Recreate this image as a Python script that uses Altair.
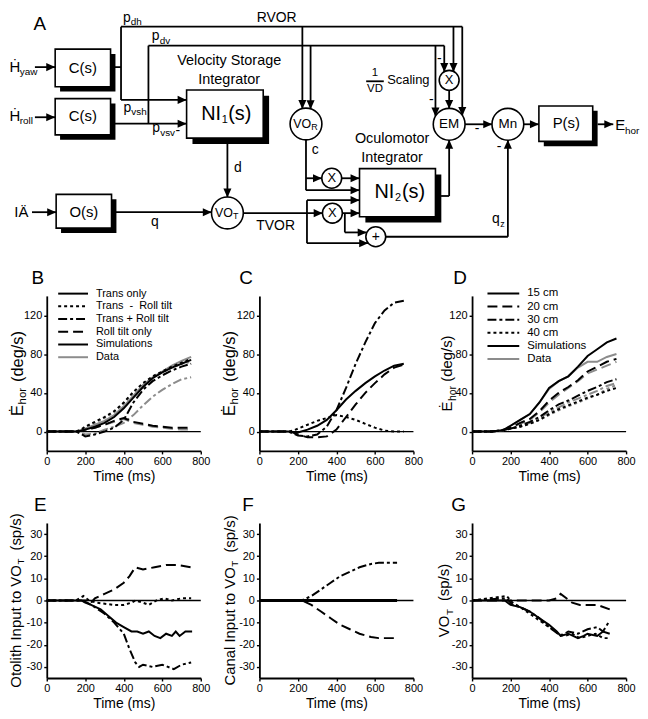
import altair as alt
import pandas as pd

FONT = "Liberation Sans"
BLACK = "#000000"
GRAY = "#8c8c8c"

# ----------------------------- panel data ---------------------------------
T_GRID = [0, 100, 150, 175, 200, 250, 300, 350, 400, 450, 500, 550, 600, 650, 700, 750]

# B: simulations (black) and data (gray)
B_SIM_TRANS_ONLY = [0, 0, 0, 0.5, 2, 5, 9, 15, 24, 35, 46, 55, 61, 66, 70, 74]
B_SIM_TRANS_MINUS = [0, 0, 0, 1.5, 5, 10, 15, 21, 30, 41, 50, 57, 62, 67, 71, 75]
B_SIM_TRANS_PLUS = [0, 0, 0, -2, -5, -3, 0, 4, 12, 30, 43, 52, 58, 63, 67, 70]
B_SIM_ROLL_ONLY = [0, 0, 0, 0.5, 2, 4, 7, 11, 14, 10, 8, 6, 5, 4, 4, 4]
B_DAT_TRANS_ONLY = [0, 0, 0, 1, 3, 7, 11, 17, 26, 37, 48, 56, 62, 68, 73, 77]
B_DAT_TRANS_MINUS = [0, 0, 0, 2, 5, 9, 14, 20, 29, 40, 49, 56, 61, 66, 70, 72]
B_DAT_TRANS_PLUS = [0, 0, 0, -1, -3, -2, 2, 5, 9, 17, 27, 36, 43, 49, 54, 56]
B_DAT_ROLL_ONLY = [0, 0, 0, 1, 2, 4, 7, 10, 13, 9, 7, 5, 4, 3, 2, 2]

# C: simulations only
C_SOLID = [0, 0, 0, -0.5, -1, 2, 6, 12, 22, 33, 42, 50, 57, 63, 68, 70]
C_DOTTED = [0, 0, 0, 1, 3, 7, 11, 14, 17, 15, 12, 8, 4, 1, 0, 0]
C_DASHDOT = [0, 0, 0, -2, -4, -5, -3, 5, 22, 45, 70, 92, 112, 125, 133, 135]
C_DASHED = [0, 0, 0, -1, -3, -6, -6, -5, 2, 15, 28, 40, 50, 59, 66, 69]

# D: viewing distance
D_SIM_15 = [0, 0, 1, 3, 6, 12, 18, 30, 45, 52, 57, 67, 78, 85, 92, 96]
D_DAT_15 = [0, 0, 1, 3, 6, 12, 18, 30, 44, 52, 57, 66, 72, 72, 77, 80]
D_SIM_20 = [0, 0, 1, 2, 4, 9, 13, 21, 32, 40, 46, 53, 62, 67, 72, 75]
D_DAT_20 = [0, 0, 1, 2, 4, 8, 12, 20, 30, 38, 45, 52, 60, 64, 68, 72]
D_SIM_30 = [0, 0, 1, 2, 3, 6, 10, 15, 22, 28, 32, 37, 42, 46, 51, 54]
D_DAT_30 = [0, 0, 1, 2, 3, 5, 9, 14, 20, 25, 30, 34, 38, 42, 47, 50]
D_SIM_40 = [0, 0, 1, 2, 3, 5, 8, 12, 18, 23, 27, 31, 35, 38, 42, 45]
D_DAT_40 = [0, 0, 1, 2, 3, 5, 8, 12, 17, 22, 26, 30, 34, 38, 44, 48]

# E: otolith input to VO_T
E_T_SOLID = [0, 150, 180, 200, 230, 280, 320, 360, 400, 440, 470, 500, 530, 560, 590, 620, 650, 670, 690, 720, 755]
E_SOLID = [0, 0, 0, -1, -2, -4, -7, -10, -12, -14, -14, -15, -14, -16, -17, -15, -16, -14, -16, -14, -14]
E_T_DASHDOT = [0, 180, 210, 250, 300, 350, 400, 430, 460, 480, 500, 550, 600, 660, 700, 750]
E_DASHDOT = [0, 0, -1, -3, -6, -10, -15, -22, -28, -30, -29, -30, -29, -31, -29, -28]
E_T_DASHED = [0, 200, 230, 250, 300, 350, 400, 430, 460, 500, 560, 620, 680, 750]
E_DASHED = [0, 0, -1, 1, 3, 5, 8, 11, 15, 14, 15, 16, 16, 15]
E_T_DOTTED = [0, 150, 170, 190, 220, 260, 350, 400, 440, 460, 500, 530, 570, 610, 650, 700, 750]
E_DOTTED = [0, 0, 1, 2, 0, -1, -2, -2, -1, 0, -1, -2, 0, 1, 0, 1, 1]

# F: canal input to VO_T
F_T = [0, 220, 270, 320, 370, 420, 470, 520, 580, 620, 715]
F_DASHDOT = [0, 0, 2, 5, 8, 11, 13, 15, 16.5, 17, 17]
F_DASHED = [0, 0, -2, -5, -8, -11, -13, -15, -16.5, -17, -17]
F_T_SOLID = [0, 715]
F_SOLID = [0, 0]

# G: VO_T
G_T_SOLID = [0, 170, 200, 250, 300, 350, 400, 440, 460, 500, 550, 580, 600, 650, 680, 715]
G_SOLID = [0, 0, -2, -3, -5, -8, -11, -14, -16, -15, -17, -16, -15, -16, -14, -15]
G_T_DASHED = [0, 300, 400, 440, 460, 490, 520, 560, 600, 650, 715]
G_DASHED = [0, 0, 0, 1, 3, 1, -1, -2, -2, -2, -4]
G_T_DASHDOT = [0, 180, 210, 250, 300, 350, 400, 430, 460, 500, 550, 600, 650, 680, 715]
G_DASHDOT = [0, 1, -2, -3, -5, -8, -12, -14, -16, -14, -15, -13, -12, -14, -9]
G_T_DOTTED = [0, 180, 210, 250, 300, 350, 400, 450, 480, 520, 560, 600, 640, 680, 715]
G_DOTTED = [0, 2, -1, -3, -6, -9, -12, -15, -16, -15, -17, -16, -15, -17, -17]

X_TICKS = [0, 200, 400, 600, 800]
Y_TICKS_TOP = [0, 40, 80, 120]
Y_TICKS_BOTTOM = [-30, -20, -10, 0, 10, 20, 30]

LEG_B_LABELS = ["Trans only", "Trans\u00a0\u00a0-\u00a0\u00a0Roll tilt", "Trans + Roll tilt",
                "Roll tilt only", "Simulations", "Data"]
LEG_D_LABELS = ["15 cm", "20 cm", "30 cm", "40 cm", "Simulations", "Data"]

# ----------------------------- diagram geometry ----------------------------
BOXES = [  # x1, y1, x2, y2, shadow
    (50.7, 39.3, 107.3, 78.3, 5), (50.7, 90.7, 107.3, 128.3, 5),
    (185, 81.7, 263.3, 131.7, 6), (51.7, 190, 108.3, 225, 5),
    (361.7, 163.3, 439.3, 213.3, 6), (545, 98.3, 600, 135, 5),
]
CIRCLES = [  # cx, cy, r
    (307, 117, 16), (226.7, 209.3, 16), (453.3, 117.3, 16), (513.3, 117.3, 16),
    (453.3, 71.7, 10), (333.3, 173.3, 10), (334, 209.5, 10), (378.3, 234, 10),
]
SEGMENTS = [  # x1, y1, x2, y2, arrowhead at end ('' none, r/l/u/d)
    (118, 16, 466.7, 16, ""), (107.3, 58, 118, 58, ""), (118, 16, 118, 92, ""),
    (118, 92, 185, 92, "r"), (146, 35.7, 448.3, 35.7, ""), (146, 35.7, 146, 116.7, ""),
    (107.3, 116.7, 185, 116.7, "r"), (30, 58, 50.7, 58, "r"), (30, 110, 50.7, 110, "r"),
    (303.3, 16, 303.3, 101.4, "d"), (311.7, 35.7, 311.7, 101.7, "d"),
    (439.3, 35.7, 439.3, 109.3, "d"), (448.3, 35.7, 448.3, 63, "d"),
    (457.7, 16, 457.7, 63, "d"), (466.7, 16, 466.7, 108.6, "d"),
    (453.3, 81.7, 453.3, 101.3, "d"), (469.3, 117.3, 497.3, 117.3, "r"),
    (529.3, 117.3, 545, 117.3, "r"), (605, 117.3, 621, 117.3, "r"),
    (445, 191.7, 453.3, 191.7, ""), (453.3, 191.7, 453.3, 133.3, "u"),
    (388.3, 234, 513.3, 234, ""), (513.3, 234, 513.3, 133.3, "u"),
    (226.7, 137.7, 226.7, 193.3, "d"), (108.3, 208.5, 210.7, 208.5, "r"),
    (27, 208.5, 51.7, 208.5, "r"), (307, 133, 307, 185.7, ""),
    (307, 185.7, 361.7, 185.7, "r"), (307, 173.3, 323.3, 173.3, "r"),
    (343.3, 173.3, 361.7, 173.3, "r"), (242.7, 209.5, 324, 209.5, "r"),
    (308, 196, 308, 240.7, ""), (308, 196, 361.7, 196, "r"),
    (308, 240.7, 370.5, 240.7, "r"), (344, 209.5, 361.7, 209.5, "r"),
    (346.7, 209.5, 346.7, 229.5, ""), (346.7, 229.5, 369, 229.5, "r"),
    (368.5, 72.7, 386.5, 72.7, ""),
]
LABELS_CENTER = [  # text, x, y, size
    ("A", 35, 13, 19), ("RVOR", 277, 7.5, 14),
    ("Velocity Storage", 228.5, 52, 14.5), ("Integrator", 228.5, 71, 14.5),
    ("C(s)", 79, 58.5, 15), ("C(s)", 79, 109, 15), ("O(s)", 80, 208, 15),
    ("P(s)", 573, 115.5, 15), ("Oculomotor", 395, 133, 14.5), ("Integrator", 395, 152, 14.5),
    ("EM", 453.3, 117.3, 13.5), ("Mn", 513.3, 117.3, 13.5),
    ("X", 453.3, 71.7, 13), ("X", 333.3, 173.3, 13), ("X", 334, 209.5, 13),
    ("+", 378.3, 234, 14), ("1", 377.5, 64, 11.5), ("VD", 377.5, 81, 11.5),
    ("d", 237.5, 163, 14), ("c", 316.5, 144.5, 14), ("q", 152.5, 218.5, 14),
    ("TVOR", 276, 222.5, 14), ("-", 435, 91.7, 14), ("-", 443.3, 50, 14),
    ("-", 481.7, 122.7, 14), ("-", 504.3, 140.7, 14), ("-", 176, 124.5, 14),
]
LABELS_LEFT = [  # text, x, y, size
    ("p", 120, 7, 14), ("dh", 128, 11.5, 10), ("p", 149.5, 26, 14), ("dv", 157.5, 31, 10),
    ("p", 120.5, 100, 14), ("vsh", 128.5, 105, 10), ("p", 150, 121, 14), ("vsv", 158, 126, 10),
    ("\u1e22", 4, 57.5, 15), ("yaw", 14.5, 63, 10), ("\u1e22", 4, 108.5, 15), ("roll", 14.5, 114, 10),
    ("I\u00c4", 9, 208.5, 15),
    ("NI", 200, 107, 20), ("1", 221, 113, 11), ("(s)", 227.5, 107, 20),
    ("NI", 377, 188, 20), ("2", 398, 194, 11), ("(s)", 405, 188, 20),
    ("VO", 294, 117, 12.5), ("R", 312.5, 120.5, 9),
    ("VO", 214, 209.3, 12.5), ("T", 232.5, 212.8, 9),
    ("Scaling", 390, 71.5, 13), ("q", 497, 216, 14), ("z", 505.5, 220.5, 9),
    ("E", 623, 118, 15), ("hor", 633, 124, 10),
]

# ----------------------------- layout constants ----------------------------
PW, PH = 155, 156
GAP = 59
DIAG_W = 3 * PW + 2 * GAP
DX_DOM = [42.1, 634.1]
DIAG_H = 246.5
DY_DOM = [0, DIAG_H / 0.97]
VSPACE = 12.5

DOT = [3, 3]
DASHDOT = [9, 3, 3, 3]
DASH = [10, 5]

ONE = pd.DataFrame({"k": [0]})
NO_FRAME = alt.ViewBackground(stroke="white", strokeOpacity=0, strokeWidth=0, fill="white")

AW = {' ': 278, '(': 333, ')': 333, '/': 278, '-': 333, '+': 584, '.': 278,
      'a': 556, 'b': 556, 'c': 500, 'd': 556, 'e': 556, 'f': 278, 'g': 556, 'h': 556,
      'i': 222, 'j': 222, 'k': 500, 'l': 222, 'm': 833, 'n': 556, 'o': 556, 'p': 556,
      'q': 556, 'r': 333, 's': 500, 't': 278, 'u': 556, 'v': 500, 'w': 722, 'x': 500,
      'y': 500, 'z': 500, 'A': 667, 'C': 722, 'E': 667, 'I': 278, 'O': 778, 'T': 611,
      'V': 667, '\u0116': 667}


def text_w(s, fs):
    return sum(AW.get(c, 556) for c in s) * fs / 1000.0


def rot_title(pieces, xb):
    total = sum(text_w(t, fs) + g for t, fs, sub, g in pieces)
    y = PH / 2 + total / 2
    out = []
    for t, fs, sub, g in pieces:
        y -= g
        out.append(alt.Chart(ONE).mark_text(angle=270, align="left", baseline="alphabetic",
                                            fontSize=fs, font=FONT, color=BLACK).encode(
            x=alt.value(xb + (3.5 if sub else 0)), y=alt.value(y), text=alt.value(t)))
        y -= text_w(t, fs)
    return out


def legend(labels, styles, sx1, sx2, tx, y0, dy, fs):
    out = []
    for i, (lab, (dash, col)) in enumerate(zip(labels, styles)):
        yy = y0 + i * dy
        kw = dict(color=col, strokeWidth=2)
        if dash:
            kw["strokeDash"] = dash
        out.append(alt.Chart(ONE).mark_rule(**kw).encode(
            x=alt.value(sx1), x2=alt.value(sx2), y=alt.value(yy)))
        out.append(alt.Chart(ONE).mark_text(align="left", baseline="middle", fontSize=fs,
                                            font=FONT, color=BLACK).encode(
            x=alt.value(tx), y=alt.value(yy), text=alt.value(lab)))
    return out


def panel(series, ydom, yticks, letter, letter_dx, title_pieces, title_xb, extra=()):
    xs = alt.Scale(domain=[0, 800], nice=False, zero=False)
    ys = alt.Scale(domain=ydom, nice=False, zero=False)
    common = dict(grid=False, domainColor=BLACK, domainWidth=1.8, tickColor=BLACK,
                  tickSize=3, tickWidth=1.4, labelFont=FONT, labelFontSize=11,
                  labelColor=BLACK, labelPadding=2)
    xax = alt.Axis(values=X_TICKS, title="Time (ms)", titleFont=FONT, titleFontSize=14,
                   titleFontWeight="normal", titleColor=BLACK, titlePadding=3,
                   labelFlush=False, labelOverlap=False, **common)
    yax = alt.Axis(values=yticks, title=None, labelOverlap=False,
                   labelExpr="datum.value < 0 ? '-' + abs(datum.value) : '' + datum.value",
                   **common)
    layers = [alt.Chart(pd.DataFrame({"v": [0]})).mark_rule(color=BLACK, strokeWidth=1.3).encode(
        y=alt.Y("v:Q", scale=ys, axis=yax))]
    for t, v, dash, col, w in series:
        kw = dict(color=col, strokeWidth=w)
        if dash:
            kw["strokeDash"] = dash
        layers.append(alt.Chart(pd.DataFrame({"t": t, "v": v})).mark_line(**kw).encode(
            x=alt.X("t:Q", scale=xs, axis=xax), y=alt.Y("v:Q", scale=ys, axis=yax)))
    layers += list(extra)
    layers.append(alt.Chart(ONE).mark_text(fontSize=19, font=FONT, color=BLACK,
                                           align="center", baseline="middle").encode(
        x=alt.value(letter_dx), y=alt.value(-18), text=alt.value(letter)))
    layers += rot_title(title_pieces, title_xb)
    return alt.layer(*layers).properties(width=PW, height=PH, view=NO_FRAME)


EHOR = [("\u0116", 15, False, 0), ("hor", 10.5, True, 0.5), ("(deg/s)", 15, False, 4.2)]
EHOR_BIG = [("\u0116", 16.5, False, 0), ("hor", 11.5, True, 0.5), ("(deg/s)", 16.5, False, 6)]

# ----------------------------- panels --------------------------------------
B_STYLES = [(None, BLACK), (DOT, BLACK), (DASHDOT, BLACK), (DASH, BLACK), (None, BLACK), (None, GRAY)]
D_STYLES = [(None, BLACK), (DASH, BLACK), (DASHDOT, BLACK), (DOT, BLACK), (None, BLACK), (None, GRAY)]

pB = panel([
    (T_GRID, B_DAT_TRANS_ONLY, None, GRAY, 2), (T_GRID, B_DAT_TRANS_MINUS, DOT, GRAY, 2),
    (T_GRID, B_DAT_TRANS_PLUS, DASHDOT, GRAY, 2), (T_GRID, B_DAT_ROLL_ONLY, DASH, GRAY, 2),
    (T_GRID, B_SIM_TRANS_ONLY, None, BLACK, 2), (T_GRID, B_SIM_TRANS_MINUS, DOT, BLACK, 2),
    (T_GRID, B_SIM_TRANS_PLUS, DASHDOT, BLACK, 2), (T_GRID, B_SIM_ROLL_ONLY, DASH, BLACK, 2),
], [-20, 140], Y_TICKS_TOP, "B", -9, EHOR_BIG, -24,
    extra=legend(LEG_B_LABELS, B_STYLES, 11.5, 41.5, 49.5, -2.3, 12.8, 11))

pC = panel([
    (T_GRID, C_SOLID, None, BLACK, 2), (T_GRID, C_DOTTED, DOT, BLACK, 2),
    (T_GRID, C_DASHDOT, DASHDOT, BLACK, 2), (T_GRID, C_DASHED, DASH, BLACK, 2),
], [-20, 140], Y_TICKS_TOP, "C", -13.5, EHOR_BIG, -25)

pD = panel([
    (T_GRID, D_DAT_15, None, GRAY, 2), (T_GRID, D_DAT_20, DASH, GRAY, 2),
    (T_GRID, D_DAT_30, DASHDOT, GRAY, 2), (T_GRID, D_DAT_40, DOT, GRAY, 2),
    (T_GRID, D_SIM_15, None, BLACK, 2), (T_GRID, D_SIM_20, DASH, BLACK, 2),
    (T_GRID, D_SIM_30, DASHDOT, BLACK, 2), (T_GRID, D_SIM_40, DOT, BLACK, 2),
], [-20, 140], Y_TICKS_TOP, "D", -12, EHOR, -20,
    extra=legend(LEG_D_LABELS, D_STYLES, 15.5, 47.5, 55.5, -2.5, 13.2, 11.5))

pE = panel([
    (E_T_SOLID, E_SOLID, None, BLACK, 2), (E_T_DASHDOT, E_DASHDOT, DASHDOT, BLACK, 2),
    (E_T_DASHED, E_DASHED, DASH, BLACK, 2), (E_T_DOTTED, E_DOTTED, DOT, BLACK, 2),
], [-35, 35], Y_TICKS_BOTTOM, "E", -6.5,
    [("Otolith Input to VO", 15, False, 0), ("T", 10, True, 0.5), ("(sp/s)", 15, False, 8)], -26)

pF = panel([
    (F_T_SOLID, F_SOLID, None, BLACK, 3), (F_T, F_DASHDOT, DASHDOT, BLACK, 2),
    (F_T, F_DASHED, DASH, BLACK, 2),
], [-35, 35], Y_TICKS_BOTTOM, "F", -11.5,
    [("Canal Input to VO", 15, False, 0), ("T", 10, True, 0.5), ("(sp/s)", 15, False, 8)], -25)

pG = panel([
    (G_T_SOLID, G_SOLID, None, BLACK, 2), (G_T_DASHED, G_DASHED, DASH, BLACK, 2),
    (G_T_DASHDOT, G_DASHDOT, DASHDOT, BLACK, 2), (G_T_DOTTED, G_DOTTED, DOT, BLACK, 2),
], [-35, 35], Y_TICKS_BOTTOM, "G", -13.5,
    [("VO", 15, False, 0), ("T", 10, True, 0.5), ("(sp/s)", 15, False, 8)], -23)

# ----------------------------- diagram -------------------------------------
DXS = alt.Scale(domain=DX_DOM, nice=False, zero=False)
DYS = alt.Scale(domain=DY_DOM, nice=False, zero=False, reverse=True)
PX_PER_X = DIAG_W / (DX_DOM[1] - DX_DOM[0])
PX_PER_Y = DIAG_H / (DY_DOM[1] - DY_DOM[0])
ARROW_SIZE = 81
AR = (ARROW_SIZE ** 0.5) / 2

seg_df = pd.DataFrame([dict(x=a, y=b, x2=c, y2=d) for a, b, c, d, _ in SEGMENTS])
arr_rows = []
for a, b, c, d, h in SEGMENTS:
    if not h:
        continue
    ox = {"r": -AR / PX_PER_X, "l": AR / PX_PER_X}.get(h, 0)
    oy = {"d": -AR / PX_PER_Y, "u": AR / PX_PER_Y}.get(h, 0)
    arr_rows.append(dict(x=c + ox, y=d + oy, dir=h))
arr_df = pd.DataFrame(arr_rows)
shadow_df = pd.DataFrame([dict(x=a + s, y=b + s, x2=c + s, y2=d + s) for a, b, c, d, s in BOXES])
box_df = pd.DataFrame([dict(x=a, y=b, x2=c, y2=d) for a, b, c, d, s in BOXES])
circ_df = pd.DataFrame([dict(x=a, y=b, s=(2 * r) ** 2) for a, b, r in CIRCLES])
lc_df = pd.DataFrame([dict(text=t, x=a, y=b, fs=f) for t, a, b, f in LABELS_CENTER])
ll_df = pd.DataFrame([dict(text=t, x=a, y=b, fs=f) for t, a, b, f in LABELS_LEFT])

X = lambda f="x": alt.X(f + ":Q", scale=DXS, axis=None)
Y = lambda f="y": alt.Y(f + ":Q", scale=DYS, axis=None)

diag = alt.layer(
    alt.Chart(seg_df).mark_rule(color=BLACK, strokeWidth=1.8).encode(x=X(), y=Y(), x2="x2:Q", y2="y2:Q"),
    alt.Chart(shadow_df).mark_rect(color=BLACK).encode(x=X(), y=Y(), x2="x2:Q", y2="y2:Q"),
    alt.Chart(box_df).mark_rect(fill="white", stroke=BLACK, strokeWidth=1.6).encode(
        x=X(), y=Y(), x2="x2:Q", y2="y2:Q"),
    alt.Chart(circ_df).mark_circle(fill="white", stroke=BLACK, strokeWidth=1.6, opacity=1).encode(
        x=X(), y=Y(), size=alt.Size("s:Q", scale=None)),
    alt.Chart(arr_df).mark_point(filled=True, color=BLACK, opacity=1, strokeWidth=0).encode(
        x=X(), y=Y(), size=alt.value(ARROW_SIZE),
        shape=alt.Shape("dir:N", legend=None, scale=alt.Scale(
            domain=["r", "l", "u", "d"],
            range=["M-1,-0.9L1,0L-1,0.9Z", "M1,-0.9L-1,0L1,0.9Z",
                   "M-0.9,1L0,-1L0.9,1Z", "M-0.9,-1L0,1L0.9,-1Z"]))),
    alt.Chart(lc_df).mark_text(align="center", baseline="middle", font=FONT, color=BLACK).encode(
        x=X(), y=Y(), text="text:N", size=alt.Size("fs:Q", scale=None)),
    alt.Chart(ll_df).mark_text(align="left", baseline="middle", font=FONT, color=BLACK).encode(
        x=X(), y=Y(), text="text:N", size=alt.Size("fs:Q", scale=None)),
).properties(width=DIAG_W, height=DIAG_H, view=NO_FRAME)

row1 = alt.hconcat(pB, pC, pD, spacing=GAP, bounds="flush")
row2 = alt.hconcat(pE, pF, pG, spacing=GAP, bounds="flush")

chart = alt.vconcat(diag, row1, row2, spacing=VSPACE).properties(
    padding={"left": 0, "top": 0, "right": 0, "bottom": 0}
).configure_view(stroke=None, fill="white").configure(background="white")

chart.save("out.html", embed_options={"renderer": "svg", "actions": False})
